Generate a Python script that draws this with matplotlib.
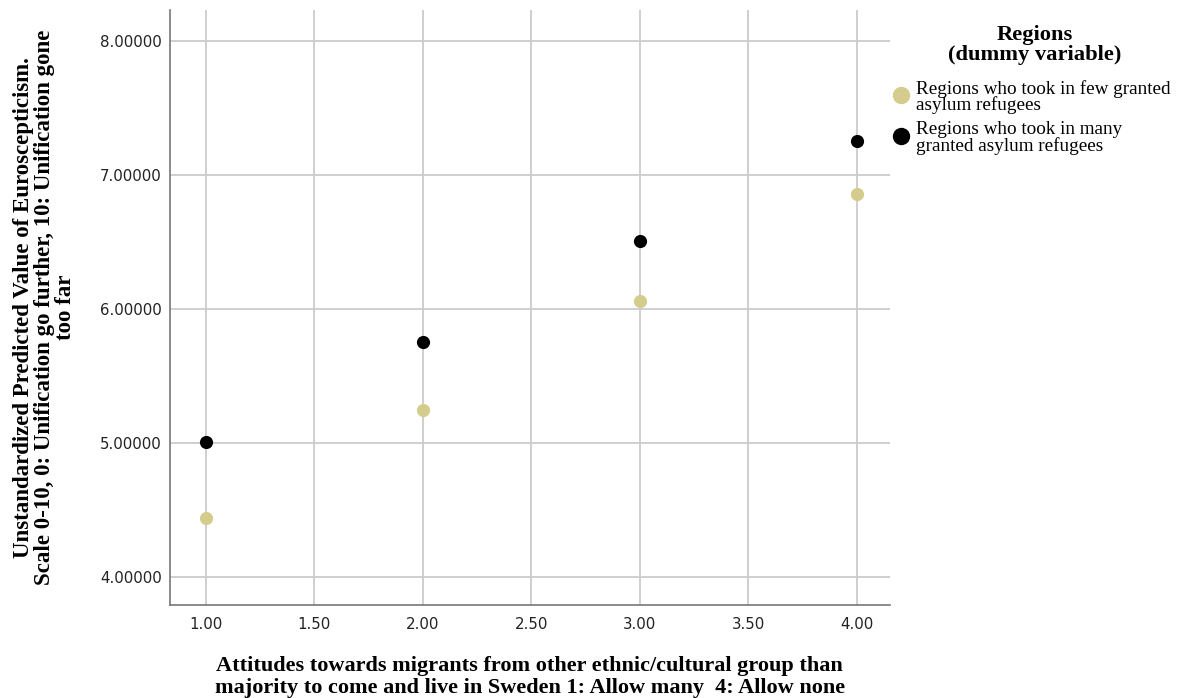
import matplotlib
matplotlib.use("Agg")
import matplotlib.pyplot as plt
from matplotlib.lines import Line2D

x_vals = [1.0, 2.0, 3.0, 4.0]
few_vals = [4.44, 5.245, 6.06, 6.86]
many_vals = [5.005, 5.755, 6.505, 7.25]
series_names = ["Regions who took in few granted\nasylum refugees",
                "Regions who took in many\ngranted asylum refugees"]
series_colors = ["#d4cc8c", "#000000"]
x_ticks = [1.0, 1.5, 2.0, 2.5, 3.0, 3.5, 4.0]
y_ticks = [4.0, 5.0, 6.0, 7.0, 8.0]

fig = plt.figure(figsize=(11.8, 6.98), dpi=100)
ax = fig.add_axes([0.144, 0.1332, 0.610, 0.8525])

ax.set_xlim(0.834, 4.152)
ax.set_ylim(3.79, 8.23)

ax.set_xticks(x_ticks)
ax.set_xticklabels([f"{v:.2f}" for v in x_ticks])
ax.set_yticks(y_ticks)
ax.set_yticklabels([f"{v:.5f}" for v in y_ticks])
ax.grid(True, color="#cccccc", linewidth=1.3)
ax.set_axisbelow(True)
ax.tick_params(length=0, labelsize=10.8, colors="#222222")
ax.tick_params(axis="x", pad=8.5)
ax.tick_params(axis="y", pad=6)
for s in ["top", "right"]:
    ax.spines[s].set_visible(False)
for s in ["left", "bottom"]:
    ax.spines[s].set_color("#777777")
    ax.spines[s].set_linewidth(1.2)

ax.scatter(x_vals, few_vals, s=90, color=series_colors[0], zorder=3, linewidths=0)
ax.scatter(x_vals, many_vals, s=90, color=series_colors[1], zorder=3, linewidths=0)

serif = ["Liberation Serif", "DejaVu Serif"]
ax.set_xlabel("Attitudes towards migrants from other ethnic/cultural group than\n"
              "majority to come and live in Sweden 1: Allow many  4: Allow none",
              family=serif, fontweight="bold", fontsize=16, labelpad=17.5, linespacing=1.12)
ax.set_ylabel("Unstandardized Predicted Value of Euroscepticism.\n"
              "Scale 0-10, 0: Unification go further, 10: Unification gone\n"
              "too far",
              family=serif, fontweight="bold", fontsize=16.5, labelpad=17.5, linespacing=0.97)

fig.text(1035 / 1180, 1 - 45 / 698, "Regions\n(dummy variable)", family=serif,
         fontweight="bold", fontsize=16.2, ha="center", va="center", linespacing=0.99)

entry_y = [95, 136]
for name, col, yy in zip(series_names, series_colors, entry_y):
    fy = 1 - yy / 698
    fig.add_artist(Line2D([901 / 1180], [fy], marker="o", linestyle="", markersize=12.5,
                          markerfacecolor=col, markeredgewidth=0,
                          transform=fig.transFigure))
    fig.text(916 / 1180, 1 - (yy + 2) / 698, name, family=serif, fontsize=13.8, ha="left",
             va="center", linespacing=0.88)

fig.savefig("out.png", dpi=100)
